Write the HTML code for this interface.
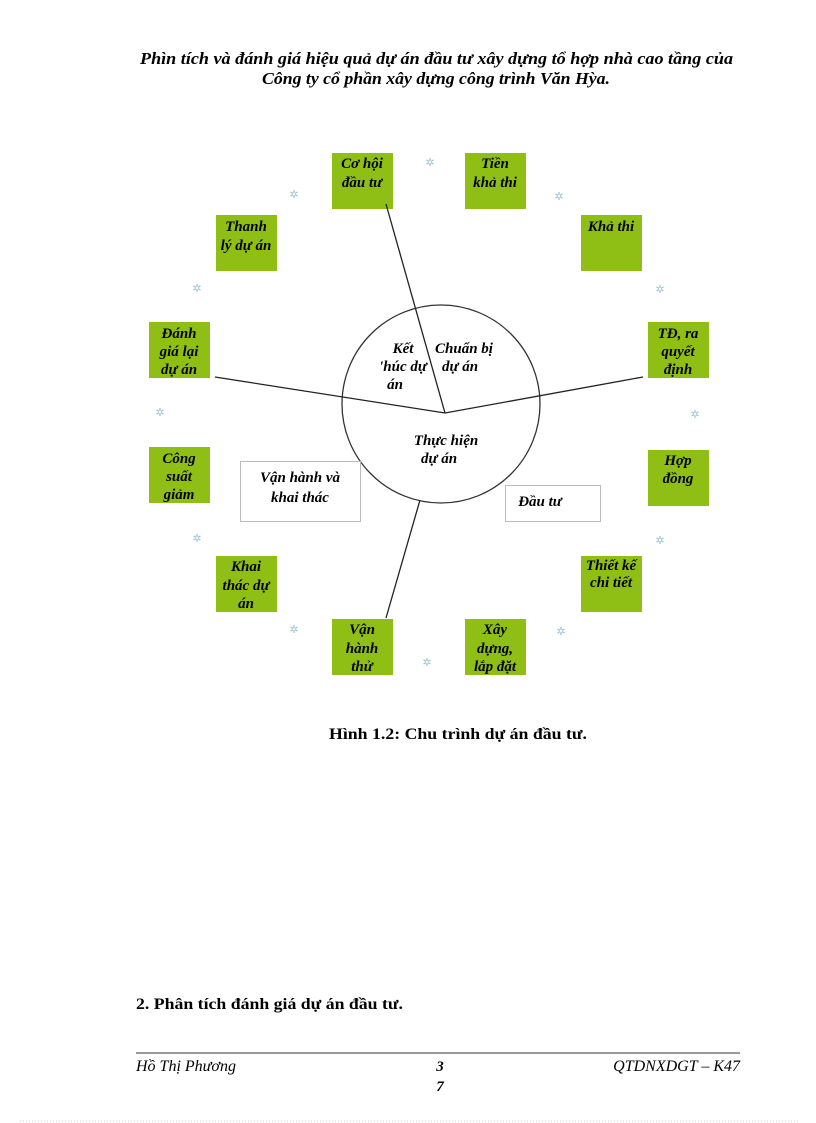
<!DOCTYPE html>
<html><head><meta charset="utf-8"><style>
html,body{margin:0;padding:0;background:#fff}
svg{display:block}
.t{font-family:"Liberation Serif",serif;font-weight:bold;font-style:italic;font-size:15px;fill:#000}
.h{font-family:"Liberation Serif",serif;font-weight:bold;font-style:italic;font-size:16.5px;fill:#000}
.b{font-family:"Liberation Serif",serif;font-weight:bold;font-size:16px;fill:#000}
.n{font-family:"Liberation Serif",serif;font-style:italic;font-size:16px;fill:#000}
.s{font-family:"DejaVu Sans",sans-serif;font-size:11px;fill:#9cc4d4}
</style></head><body>
<svg width="816" height="1123" viewBox="0 0 816 1123" xmlns="http://www.w3.org/2000/svg">
<text class="h" x="140" y="64" textLength="593" lengthAdjust="spacingAndGlyphs">Phìn tích và đánh giá hiệu quả dự án đầu tư  xây dựng tổ hợp nhà cao tầng của</text>
<text class="h" x="262" y="84" textLength="348" lengthAdjust="spacingAndGlyphs">Công ty cổ phần xây dựng công trình Văn Hỳa.</text>

<g fill="#8fbe14">
<rect x="332" y="153" width="61" height="56"/>
<rect x="465" y="153" width="61" height="56"/>
<rect x="216" y="215" width="61" height="56"/>
<rect x="581" y="215" width="61" height="56"/>
<rect x="149" y="322" width="61" height="56"/>
<rect x="648" y="322" width="61" height="56"/>
<rect x="149" y="447" width="61" height="56"/>
<rect x="648" y="450" width="61" height="56"/>
<rect x="216" y="556" width="61" height="56"/>
<rect x="581" y="556" width="61" height="56"/>
<rect x="332" y="619" width="61" height="56"/>
<rect x="465" y="619" width="61" height="56"/>
</g>
<g class="t" text-anchor="middle">
<text x="362" y="168">Cơ hội</text><text x="362" y="187">đầu tư</text>
<text x="495" y="168">Tiền</text><text x="495" y="187">khả thi</text>
<text x="246" y="231">Thanh</text><text x="246" y="250">lý dự án</text>
<text x="611" y="231">Khả thi</text>
<text x="179" y="338">Đánh</text><text x="179" y="356">giá lại</text><text x="179" y="374">dự án</text>
<text x="678" y="338">TĐ,  ra</text><text x="678" y="356">quyết</text><text x="678" y="374">định</text>
<text x="179" y="463">Công</text><text x="179" y="481">suất</text><text x="179" y="499">giảm</text>
<text x="678" y="465">Hợp</text><text x="678" y="483">đồng</text>
<text x="246" y="571">Khai</text><text x="246" y="590">thác dự</text><text x="246" y="608">án</text>
<text x="611" y="570">Thiết kế</text><text x="611" y="587">chi tiết</text>
<text x="362" y="634">Vận</text><text x="362" y="653">hành</text><text x="362" y="671">thử</text>
<text x="495" y="634">Xây</text><text x="495" y="653">dựng,</text><text x="495" y="671">lắp đặt</text>
</g>

<circle cx="441" cy="404" r="99" fill="none" stroke="#333" stroke-width="1.3"/>
<g stroke="#222" stroke-width="1.3" fill="none">
<line x1="386" y1="204" x2="445" y2="413"/>
<polyline points="215,377 445,413 643,377"/>
<line x1="420" y1="500" x2="386" y2="618"/>
</g>
<rect x="240.5" y="461.5" width="120" height="60" fill="#fff" stroke="#bbb"/>
<rect x="505.5" y="485.5" width="95" height="36" fill="#fff" stroke="#bbb"/>
<g class="t" text-anchor="middle">
<text x="300" y="482">Vận hành và</text><text x="300" y="502">khai thác</text>
<text x="540" y="506">Đầu tư</text>
<text x="403" y="353">Kết</text><text x="403" y="371">'húc dự</text><text x="395" y="389">án</text>
<text x="464" y="353">Chuẩn bị</text><text x="460" y="371">dự án</text>
<text x="446" y="445">Thực hiện</text><text x="439" y="463">dự án</text>
</g>
<g class="s" text-anchor="middle">
<text x="430" y="166">✲</text><text x="294" y="198">✲</text><text x="559" y="200">✲</text>
<text x="197" y="292">✲</text><text x="660" y="293">✲</text>
<text x="160" y="416">✲</text><text x="695" y="418">✲</text>
<text x="197" y="542">✲</text><text x="660" y="544">✲</text>
<text x="294" y="633">✲</text><text x="561" y="635">✲</text>
<text x="427" y="666">✲</text>
</g>

<text class="b" x="329" y="739" textLength="258" lengthAdjust="spacingAndGlyphs">Hình 1.2: Chu trình dự án đầu tư.</text>
<text class="b" x="136" y="1009" textLength="267" lengthAdjust="spacingAndGlyphs">2. Phân tích đánh giá dự án đầu tư.</text>
<line x1="136" y1="1053" x2="740" y2="1053" stroke="#333" stroke-width="1"/>
<text class="n" x="136" y="1071">Hồ Thị Phương</text>
<text class="t" x="440" y="1071" text-anchor="middle">3</text>
<text class="t" x="440" y="1091" text-anchor="middle">7</text>
<text class="n" x="740" y="1071" text-anchor="end">QTDNXDGT – K47</text>
<line x1="20" y1="1121" x2="800" y2="1121" stroke="#ccc" stroke-width="1" stroke-dasharray="1,2"/>
</svg>
</body></html>
